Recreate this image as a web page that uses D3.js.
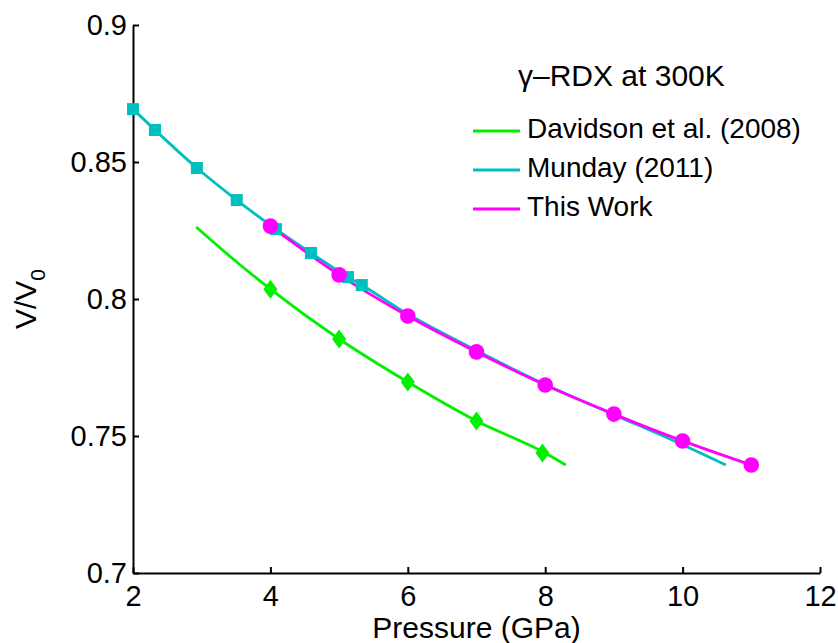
<html>
<head>
  <script src="https://d3js.org/d3.v7.min.js"></script>
  <style>
    body { margin: 0; background: white; }
    text { font-family: "Liberation Sans", Arial, sans-serif; fill: black; }
    .axis path, .axis line { stroke: black; stroke-width: 2px; }
    .axis text { font-size: 29px; font-family: "Liberation Sans", Arial, sans-serif; }
  </style>
</head>
<body>
<svg id="chart" width="838" height="643"></svg>
<script>
  // data
  const davidsonCurveP = [2.92, 3.5, 4, 5, 6, 7, 8, 8.3];
  const davidsonCurveV = [0.8263, 0.8137, 0.8036, 0.7854, 0.7697, 0.7555, 0.7438, 0.7394];
  const davidsonP = [4, 5, 6, 7, 7.96];
  const davidsonV = [0.8036, 0.7854, 0.7697, 0.7555, 0.7438];

  const mundayCurveP = [2.0, 2.32, 2.93, 3.51, 4.08, 4.59, 5.13, 5.33, 6, 7, 8, 9, 10, 10.63];
  const mundayCurveV = [0.8693, 0.8617, 0.8478, 0.8361, 0.8255, 0.8168, 0.808, 0.8051, 0.7945, 0.7812, 0.7688, 0.7578, 0.7468, 0.7394];
  const mundayP = [2.0, 2.32, 2.93, 3.51, 4.08, 4.59, 5.13, 5.33];
  const mundayV = [0.8693, 0.8617, 0.8478, 0.8361, 0.8255, 0.8168, 0.808, 0.8051];

  const thisP = [4, 5, 6, 7, 8, 9, 10, 11];
  const thisV = [0.8266, 0.8088, 0.7938, 0.7807, 0.7686, 0.758, 0.7482, 0.7394];

  const xTicks = [2, 4, 6, 8, 10, 12];
  const yTicks = [0.7, 0.75, 0.8, 0.85, 0.9];
  const legendNames = ["Davidson et al. (2008)", "Munday (2011)", "This Work"];
  const colors = ["#00f000", "#00bfbf", "#ff00ff"];

  const svg = d3.select("#chart");
  const margin = { top: 25, right: 16, bottom: 70, left: 133 };
  const height = 643 - margin.top - margin.bottom;

  const x = d3.scaleLinear().domain([2, 12]).range([0, 687]);
  const y = d3.scaleLinear().domain([0.7, 0.9]).range([height, 0]);

  const g = svg.append("g")
    .attr("transform", "translate(" + margin.left + "," + margin.top + ")");

  // axes, ticks pointing inward (matlab style, box off)
  g.append("g").attr("class", "axis")
    .attr("transform", "translate(0," + height + ")")
    .call(d3.axisBottom(x).tickValues(xTicks).tickSizeInner(-6).tickSizeOuter(0).tickPadding(12).tickFormat(d3.format("d")));
  g.append("g").attr("class", "axis")
    .call(d3.axisLeft(y).tickValues(yTicks).tickSizeInner(-6).tickSizeOuter(0).tickPadding(6).tickFormat(d => String(d)));

  const zip = (a, b) => a.map((d, i) => [d, b[i]]);
  const line = d3.line().x(d => x(d[0])).y(d => y(d[1])).curve(d3.curveMonotoneX);

  // curves
  const curves = [zip(davidsonCurveP, davidsonCurveV), zip(mundayCurveP, mundayCurveV), zip(thisP, thisV)];
  curves.forEach((c, i) => {
    g.append("path").datum(c)
      .attr("d", line)
      .attr("fill", "none")
      .attr("stroke", colors[i])
      .attr("stroke-width", 2.8);
  });

  // markers
  g.selectAll("rect.munday").data(zip(mundayP, mundayV)).join("rect")
    .attr("class", "munday")
    .attr("x", d => x(d[0]) - 6).attr("y", d => y(d[1]) - 6)
    .attr("width", 12).attr("height", 12)
    .attr("fill", colors[1]);

  g.selectAll("path.davidson").data(zip(davidsonP, davidsonV)).join("path")
    .attr("class", "davidson")
    .attr("d", d => {
      const cx = x(d[0]), cy = y(d[1]);
      return "M" + cx + "," + (cy - 9.5) + "L" + (cx + 7) + "," + cy + "L" + cx + "," + (cy + 9.5) + "L" + (cx - 7) + "," + cy + "Z";
    })
    .attr("fill", colors[0]);

  g.selectAll("circle.thiswork").data(zip(thisP, thisV)).join("circle")
    .attr("class", "thiswork")
    .attr("cx", d => x(d[0])).attr("cy", d => y(d[1]))
    .attr("r", 7.8)
    .attr("fill", colors[2]);

  // axis labels
  svg.append("text")
    .attr("x", margin.left + x(7)).attr("y", 638)
    .attr("text-anchor", "middle")
    .style("font-size", "30px")
    .text("Pressure (GPa)");

  const yl = svg.append("text")
    .attr("transform", "translate(36," + (margin.top + y(0.8)) + ") rotate(-90)")
    .attr("text-anchor", "middle")
    .style("font-size", "30px");
  yl.append("tspan").text("V/V");
  yl.append("tspan").attr("dy", 9).style("font-size", "21px").text("0");

  // legend
  svg.append("text")
    .attr("x", 518).attr("y", 86)
    .style("font-size", "30px")
    .text("γ–RDX at 300K");

  const leg = svg.append("g");
  legendNames.forEach((n, i) => {
    const ly = 131 + i * 39;
    leg.append("line")
      .attr("x1", 473).attr("x2", 520).attr("y1", ly).attr("y2", ly)
      .attr("stroke", colors[i]).attr("stroke-width", 2.8);
    leg.append("text")
      .attr("x", 527).attr("y", ly + 7)
      .style("font-size", "28px")
      .text(n);
  });
</script>
</body>
</html>
